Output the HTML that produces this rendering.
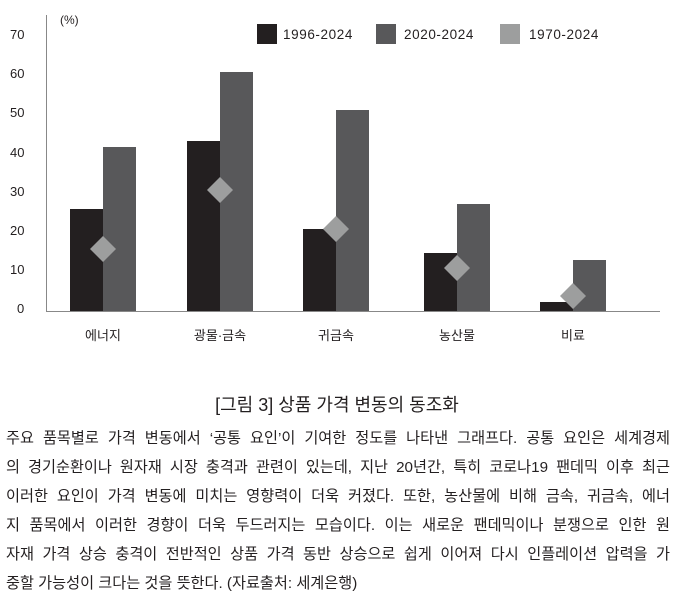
<!DOCTYPE html>
<html><head><meta charset="utf-8"><style>
body{margin:0;width:675px;height:592px;background:#fff;overflow:hidden;font-family:"Liberation Sans","Noto Sans CJK KR",sans-serif;}
.t{position:absolute;left:6px;width:664px;font-size:15.2px;color:#231f20;}
.t div{height:29px;line-height:29px;text-align:justify;text-align-last:justify;white-space:nowrap;}
.t div.l{text-align-last:left;}
</style></head><body>
<svg width="675" height="422" style="position:absolute;left:0;top:0" font-family="Liberation Sans, Noto Sans CJK KR, sans-serif">
<g fill="#231f20" font-size="13">
<text x="10" y="39">70</text><text x="10" y="78">60</text><text x="10" y="117">50</text><text x="10" y="157">40</text><text x="10" y="196">30</text><text x="10" y="235">20</text><text x="10" y="274">10</text><text x="17" y="313">0</text>
<text x="60" y="24" font-size="12">(%)</text>
</g>
<line x1="46.5" y1="15" x2="46.5" y2="311" stroke="#888"/>
<line x1="46" y1="311.5" x2="660" y2="311.5" stroke="#888"/>
<g fill="#231f20">
<rect x="70" y="209" width="33" height="102"/><rect x="187" y="141" width="33" height="170"/><rect x="303" y="229" width="33" height="82"/><rect x="424" y="253" width="33" height="58"/><rect x="540" y="302" width="33" height="9"/>
</g>
<g fill="#58585a">
<rect x="103" y="147" width="33" height="164"/><rect x="220" y="72" width="33" height="239"/><rect x="336" y="110" width="33" height="201"/><rect x="457" y="204" width="33" height="107"/><rect x="573" y="260" width="33" height="51"/>
</g>
<g fill="#9d9e9e">
<path d="M103 236l13 13-13 13-13-13z"/><path d="M220 177l13 13-13 13-13-13z"/><path d="M336 216l13 13-13 13-13-13z"/><path d="M457 255l13 13-13 13-13-13z"/><path d="M573 283l13 13-13 13-13-13z"/>
</g>
<rect x="257" y="24" width="20" height="20" fill="#231f20"/><rect x="376" y="24" width="20" height="20" fill="#58585a"/><rect x="500" y="24" width="20" height="20" fill="#9d9e9e"/>
<g fill="#231f20" font-size="13.5">
<text x="283" y="39" letter-spacing="0.6">1996-2024</text><text x="404" y="39" letter-spacing="0.6">2020-2024</text><text x="529" y="39" letter-spacing="0.6">1970-2024</text>
</g>
<g fill="#231f20" font-size="13">
<text x="103" y="340" text-anchor="middle">에너지</text><text x="220" y="340" text-anchor="middle">광물·금속</text><text x="336" y="340" text-anchor="middle">귀금속</text><text x="457" y="340" text-anchor="middle">농산물</text><text x="573" y="340" text-anchor="middle">비료</text>
</g>
<text x="337" y="411" text-anchor="middle" font-size="18" fill="#231f20">[그림 3] 상품 가격 변동의 동조화</text>
</svg>
<div class="t" style="top:424px">
<div>주요 품목별로 가격 변동에서 ‘공통 요인’이 기여한 정도를 나타낸 그래프다. 공통 요인은 세계경제</div>
<div>의 경기순환이나 원자재 시장 충격과 관련이 있는데, 지난 20년간, 특히 코로나19 팬데믹 이후 최근</div>
<div>이러한 요인이 가격 변동에 미치는 영향력이 더욱 커졌다. 또한, 농산물에 비해 금속, 귀금속, 에너</div>
<div>지 품목에서 이러한 경향이 더욱 두드러지는 모습이다. 이는 새로운 팬데믹이나 분쟁으로 인한 원</div>
<div>자재 가격 상승 충격이 전반적인 상품 가격 동반 상승으로 쉽게 이어져 다시 인플레이션 압력을 가</div>
<div class="l">중할 가능성이 크다는 것을 뜻한다. (자료출처: 세계은행)</div>
</div>
</body></html>
